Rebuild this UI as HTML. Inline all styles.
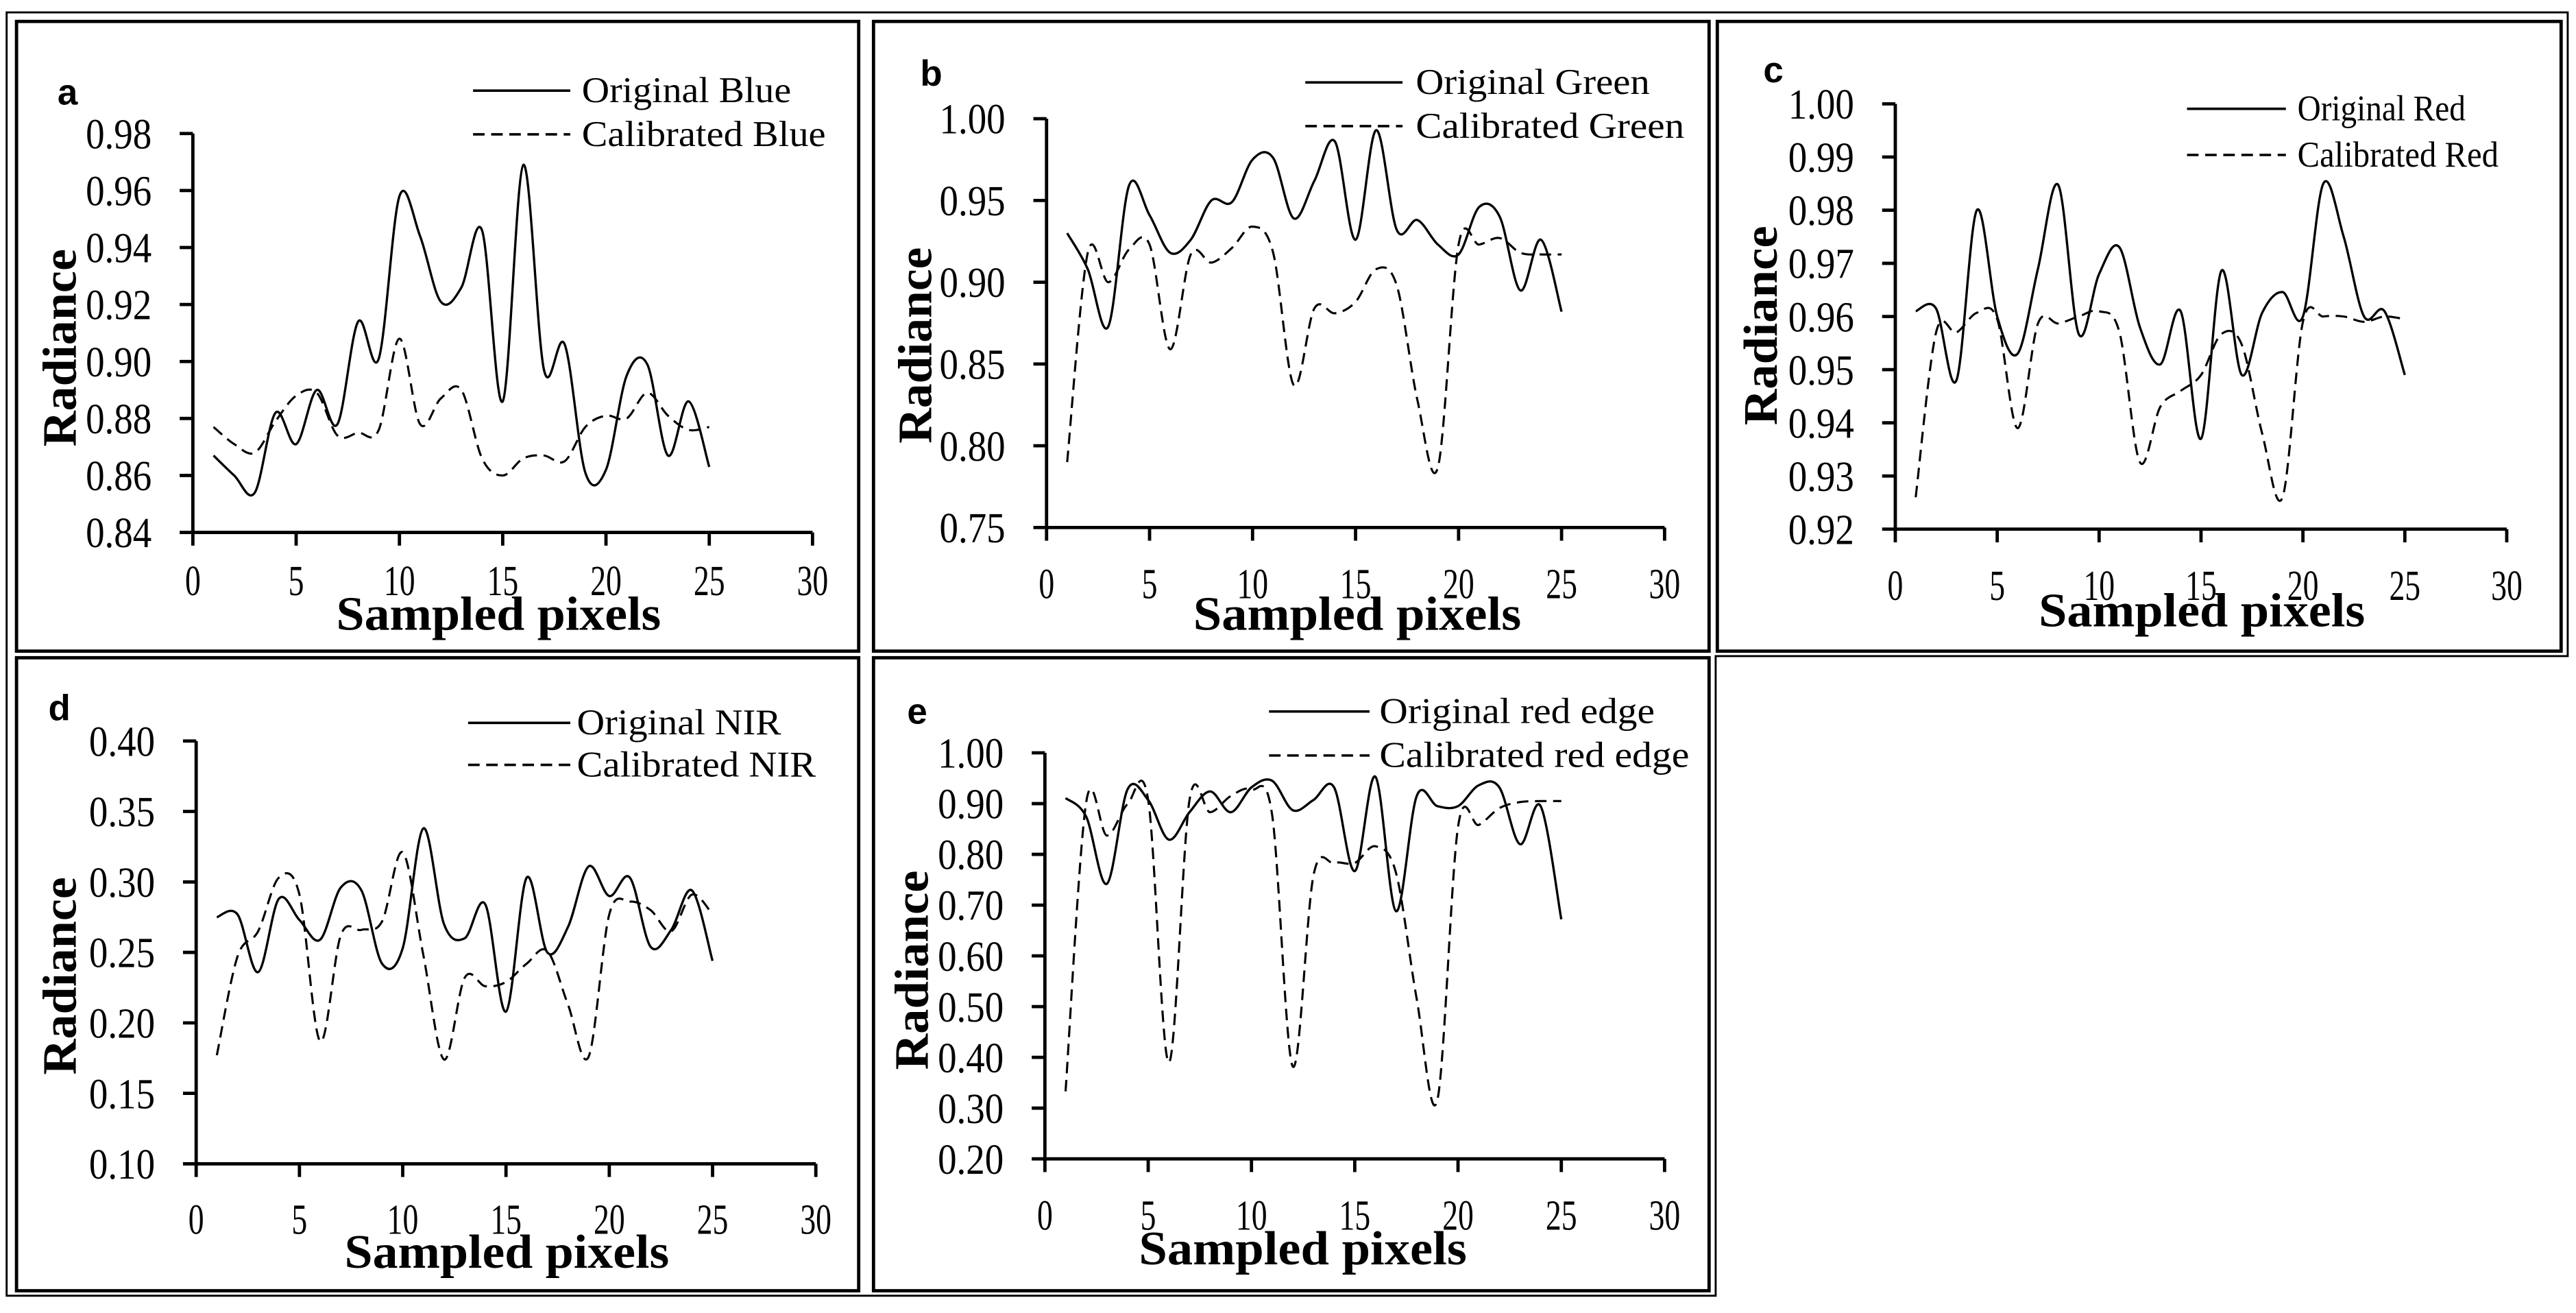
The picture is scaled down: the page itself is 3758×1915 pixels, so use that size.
<!DOCTYPE html>
<html><head><meta charset="utf-8"><style>
html,body{margin:0;padding:0;background:#fff;}
svg{display:block;}
text{font-family:"Liberation Serif",serif;fill:#000;}
.lbl{font-family:"Liberation Sans",sans-serif;font-weight:bold;}
</style></head><body>
<svg id="fig" xmlns="http://www.w3.org/2000/svg" width="3758" height="1915" viewBox="0 0 1563 796.5">
<rect x="0" y="0" width="1563" height="796.5" fill="#fff"/>
<polygon points="4,7.5 1558,7.5 1558,398 1041,398 1041,786 4,786" fill="none" stroke="#000" stroke-width="1.2"/>
</svg>
<script>
const xPixels = [1,2,3,4,5,6,7,8,9,10,11,12,13,14,15,16,17,18,19,20,21,22,23,24,25];
const xTicks = [0,5,10,15,20,25,30];
const blueOriginal = [0.867,0.860,0.854,0.882,0.871,0.890,0.878,0.914,0.901,0.958,0.944,0.921,0.926,0.946,0.886,0.969,0.897,0.906,0.861,0.862,0.895,0.899,0.867,0.886,0.863];
const blueCalibrated = [0.877,0.871,0.868,0.879,0.888,0.889,0.874,0.875,0.876,0.908,0.878,0.887,0.890,0.866,0.860,0.866,0.867,0.865,0.877,0.881,0.880,0.889,0.881,0.876,0.877];
const greenOriginal = [0.930,0.908,0.873,0.959,0.941,0.918,0.926,0.950,0.949,0.975,0.976,0.939,0.962,0.986,0.926,0.993,0.932,0.938,0.923,0.917,0.946,0.940,0.895,0.926,0.882];
const greenCalibrated = [0.790,0.918,0.900,0.920,0.923,0.859,0.917,0.912,0.921,0.934,0.918,0.837,0.884,0.881,0.888,0.908,0.898,0.828,0.787,0.923,0.923,0.927,0.918,0.917,0.917];
const redOriginal = [0.961,0.9615,0.948,0.980,0.960,0.953,0.969,0.9847,0.9567,0.968,0.973,0.958,0.951,0.961,0.937,0.9686,0.949,0.9607,0.9646,0.960,0.985,0.975,0.960,0.961,0.949];
const redCalibrated = [0.926,0.957,0.957,0.9607,0.9595,0.939,0.9587,0.9587,0.960,0.961,0.957,0.9326,0.943,0.946,0.949,0.9567,0.9547,0.938,0.926,0.959,0.960,0.960,0.959,0.960,0.9595];
const nirOriginal = [0.275,0.277,0.236,0.288,0.273,0.259,0.296,0.294,0.242,0.253,0.338,0.270,0.260,0.284,0.208,0.303,0.250,0.268,0.311,0.290,0.303,0.254,0.266,0.294,0.244];
const nirCalibrated = [0.177,0.247,0.265,0.303,0.291,0.187,0.262,0.266,0.272,0.321,0.248,0.174,0.232,0.226,0.229,0.242,0.251,0.213,0.176,0.277,0.286,0.280,0.265,0.291,0.277];
const edgeOriginal = [0.911,0.874,0.742,0.928,0.907,0.829,0.883,0.924,0.883,0.932,0.945,0.887,0.907,0.932,0.767,0.953,0.688,0.915,0.895,0.895,0.936,0.932,0.820,0.895,0.672];
const edgeCalibrated = [0.333,0.903,0.837,0.899,0.907,0.390,0.907,0.883,0.915,0.928,0.878,0.382,0.758,0.783,0.783,0.816,0.763,0.515,0.316,0.854,0.858,0.891,0.903,0.905,0.905];
const yTicksA = [0.84,0.86,0.88,0.90,0.92,0.94,0.96,0.98];
const yTicksB = [0.75,0.80,0.85,0.90,0.95,1.00];
const yTicksC = [0.92,0.93,0.94,0.95,0.96,0.97,0.98,0.99,1.00];
const yTicksD = [0.10,0.15,0.20,0.25,0.30,0.35,0.40];
const yTicksE = [0.20,0.30,0.40,0.50,0.60,0.70,0.80,0.90,1.00];

const NS = "http://www.w3.org/2000/svg";
const svg = document.getElementById('fig');
function mk(tag, attrs, parent){
  const e = document.createElementNS(NS, tag);
  for (const k in attrs) e.setAttribute(k, attrs[k]);
  parent.appendChild(e);
  return e;
}
function smoothPath(pts){
  let d = 'M' + pts[0][0].toFixed(2) + ',' + pts[0][1].toFixed(2);
  for (let i = 0; i < pts.length - 1; i++){
    const p0 = pts[i-1] || pts[i], p1 = pts[i], p2 = pts[i+1], p3 = pts[i+2] || pts[i+1];
    const c1x = p1[0] + (p2[0]-p0[0])/6, c1y = p1[1] + (p2[1]-p0[1])/6;
    const c2x = p2[0] - (p3[0]-p1[0])/6, c2y = p2[1] - (p3[1]-p1[1])/6;
    d += ' C' + c1x.toFixed(2) + ',' + c1y.toFixed(2) + ' ' + c2x.toFixed(2) + ',' + c2y.toFixed(2) + ' ' + p2[0].toFixed(2) + ',' + p2[1].toFixed(2);
  }
  return d;
}

const panels = [
 {key:'a', band:'blue', x0:117, x30:493, yTop:81, yBot:323, yTicks:yTicksA, orig:blueOriginal, cal:blueCalibrated, box:[10,13,511,382], lab:[41,63.5], xdy:37,
  leg:{x1:287,x2:346,y1:55,y2:81.5,tx:353,e1:480,e2:501,t1:'Original Blue',t2:'Calibrated Blue'}, xt:[204,401,382], yt:[36,151,271]},
 {key:'b', band:'green', x0:635, x30:1010, yTop:72, yBot:320, yTicks:yTicksB, orig:greenOriginal, cal:greenCalibrated, box:[530,13,507,382], lab:[565,52], xdy:42,
  leg:{x1:792,x2:851,y1:50,y2:76.5,tx:859,e1:1001,e2:1022,t1:'Original Green',t2:'Calibrated Green'}, xt:[724,923,382], yt:[555,150,269]},
 {key:'c', band:'red', x0:1150, x30:1521, yTop:63, yBot:321, yTicks:yTicksC, orig:redOriginal, cal:redCalibrated, box:[1042,13,512,382], lab:[1076,50], xdy:42,
  leg:{x1:1327,x2:1387,y1:66,y2:94,tx:1394,e1:1496,e2:1516,t1:'Original Red',t2:'Calibrated Red'}, xt:[1237,1435,380], yt:[1068,137,258]},
 {key:'d', band:'nir', x0:119, x30:495, yTop:449.5, yBot:706, yTicks:yTicksD, orig:nirOriginal, cal:nirCalibrated, box:[10,399,511,384], lab:[36,437], xdy:41.5,
  leg:{x1:284,x2:346,y1:438.5,y2:464,tx:350,e1:474,e2:495,t1:'Original NIR',t2:'Calibrated NIR'}, xt:[209,406,769], yt:[36,532,652]},
 {key:'e', band:'red-edge', x0:634, x30:1010, yTop:456.7, yBot:703, yTicks:yTicksE, orig:edgeOriginal, cal:edgeCalibrated, box:[530,399,507,384], lab:[556.5,439], xdy:42,
  leg:{x1:770,x2:831,y1:431.6,y2:458.3,tx:837,e1:1004,e2:1025,t1:'Original red edge',t2:'Calibrated red edge'}, xt:[691,890,767], yt:[553,528,649]}
];

panels.forEach(p => {
  const g = mk('g', {}, svg);
  
  
  const yMin = p.yTicks[0], yMax = p.yTicks[p.yTicks.length-1];
  const sx = v => p.x0 + (v - xTicks[0]) / (xTicks[xTicks.length-1] - xTicks[0]) * (p.x30 - p.x0);
  const sy = v => p.yBot - (v - yMin) / (yMax - yMin) * (p.yBot - p.yTop);

  const box = mk('rect', {x:p.box[0], y:p.box[1], width:p.box[2], height:p.box[3], fill:'none', stroke:'#000', 'stroke-width':2}, g);
  
  

  const lab = mk('text', {x:p.lab[0], y:p.lab[1], 'font-size':22, 'text-anchor':'middle', class:'lbl'}, g);
  lab.textContent = p.key;
  
  

  const ya = mk('line', {x1:p.x0, y1:p.yTop, x2:p.x0, y2:p.yBot, stroke:'#000', 'stroke-width':2}, g);
  
  
  const xa = mk('line', {x1:p.x0, y1:p.yBot, x2:p.x30, y2:p.yBot, stroke:'#000', 'stroke-width':2}, g);
  
  

  p.yTicks.forEach(v => {
    const y = sy(v);
    const t = mk('line', {x1:p.x0-8, y1:y, x2:p.x0, y2:y, stroke:'#000', 'stroke-width':2}, g);
    
    
    const tl = mk('text', {x:p.x0-25, y:y+9, 'font-size':26, 'text-anchor':'end', textLength:40, lengthAdjust:'spacingAndGlyphs'}, g);
    tl.textContent = v.toFixed(2);
    
    
  });
  xTicks.forEach(v => {
    const x = sx(v);
    const t = mk('line', {x1:x, y1:p.yBot, x2:x, y2:p.yBot+8, stroke:'#000', 'stroke-width':2}, g);
    
    
    const s = String(v);
    const tl = mk('text', {x:x, y:p.yBot+p.xdy+1, 'font-size':26, 'text-anchor':'middle', textLength:9.5*s.length, lengthAdjust:'spacingAndGlyphs'}, g);
    tl.textContent = s;
    
    
  });

  const ptsO = xPixels.map((x,i) => [sx(x), sy(p.orig[i])]);
  const ptsC = xPixels.map((x,i) => [sx(x), sy(p.cal[i])]);
  const lo = mk('path', {d:smoothPath(ptsO), fill:'none', stroke:'#000', 'stroke-width':1.4}, g);
  
  
  const lc = mk('path', {d:smoothPath(ptsC), fill:'none', stroke:'#000', 'stroke-width':1.3, 'stroke-dasharray':'7,4'}, g);
  
  

  const L = p.leg;
  const l1 = mk('line', {x1:L.x1, y1:L.y1, x2:L.x2, y2:L.y1, stroke:'#000', 'stroke-width':1.5}, g);
  
  
  const t1 = mk('text', {x:L.tx, y:L.y1+7, 'font-size':22, textLength:L.e1-L.tx, lengthAdjust:'spacingAndGlyphs'}, g);
  t1.textContent = L.t1;
  
  
  const l2 = mk('line', {x1:L.x1, y1:L.y2, x2:L.x2, y2:L.y2, stroke:'#000', 'stroke-width':1.5, 'stroke-dasharray':'7,4'}, g);
  
  
  const t2 = mk('text', {x:L.tx, y:L.y2+7, 'font-size':22, textLength:L.e2-L.tx, lengthAdjust:'spacingAndGlyphs'}, g);
  t2.textContent = L.t2;
  
  

  const xt = mk('text', {x:p.xt[0], y:p.xt[2], 'font-size':29, 'font-weight':'bold', textLength:p.xt[1]-p.xt[0], lengthAdjust:'spacingAndGlyphs'}, g);
  xt.textContent = 'Sampled pixels';
  
  
  const cy = (p.yt[1] + p.yt[2]) / 2;
  const yt = mk('text', {x:0, y:0, 'font-size':29, 'font-weight':'bold', 'text-anchor':'middle', textLength:p.yt[2]-p.yt[1], lengthAdjust:'spacingAndGlyphs', transform:'translate(' + (p.yt[0]+10) + ',' + cy + ') rotate(-90)'}, g);
  yt.textContent = 'Radiance';
  
  
});
</script>
</body></html>
